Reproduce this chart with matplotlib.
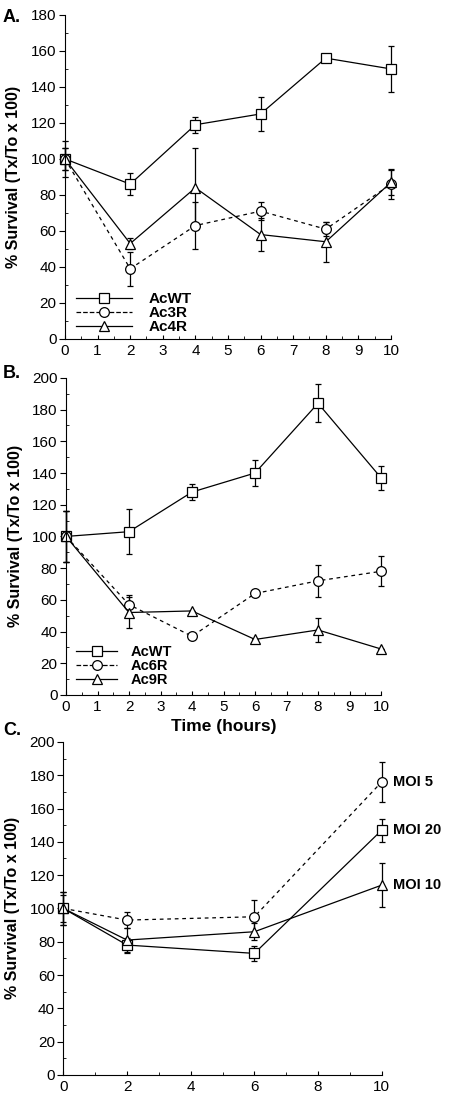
import matplotlib.pyplot as plt
from matplotlib.lines import Line2D
from matplotlib.ticker import MultipleLocator

plt.rcParams['font.family'] = ['Liberation Sans', 'DejaVu Sans']

# Panel A data
hours_a = [0, 2, 4, 6, 8, 10]
a_wt = [100, 86, 119, 125, 156, 150]
a_wt_err = [6, 6, 4.5, 9.5, 0, 13]
a_3r = [100, 39, 63, 71, 61, 86]
a_3r_err = [6, 9.5, 13, 5, 4, 8.5]
a_4r = [100, 53, 84, 58, 54, 87]
a_4r_err = [10, 3, 22, 9, 11, 7]

# Panel B data
hours_b = [0, 2, 4, 6, 8, 10]
b_wt = [100, 103, 128, 140, 184, 137]
b_wt_err = [16, 14, 5, 8, 12, 7.5]
b_6r = [100, 57, 37, 64, 72, 78]
b_6r_err = [16, 6, 0, 0, 10, 9.5]
b_9r = [100, 52, 53, 35, 41, 29]
b_9r_err = [16, 10, 0, 0, 7.5, 0]

# Panel C data
hours_c = [0, 2, 6, 10]
moi5 = [100, 93, 95, 176]
moi5_err = [10, 5, 10, 12]
moi20 = [100, 78, 73, 147]
moi20_err = [10, 4.5, 4.5, 7]
moi10 = [100, 81, 86, 114]
moi10_err = [8, 7, 5, 13]

ylabel = '% Survival (Tx/To x 100)'


def series(ax, x, y, err, marker, ls, ms=7):
    dash = (3, 3) if ls == '--' else (None, None)
    c = ax.errorbar(x, y, yerr=err, color='black', ls=ls, lw=0.9, marker=marker,
                    ms=ms, mfc='white', mec='black', mew=0.9, capsize=2.5,
                    elinewidth=0.9, capthick=0.9, dashes=dash)
    for art in c.lines[1] + c.lines[2] + (c.lines[0],):
        art.set_clip_on(False)


def handle(marker, ls, ms=7):
    return Line2D([], [], color='black', ls=ls, lw=0.9, marker=marker, ms=ms,
                  mfc='white', mec='black', mew=0.9)


def style(ax, ymax, ystep, xlabel_step=1):
    ax.spines['top'].set_visible(False)
    ax.spines['right'].set_visible(False)
    ax.set_xlim(0, 10)
    ax.set_ylim(0, ymax)
    ax.set_xticks(range(0, 11, xlabel_step))
    ax.xaxis.set_minor_locator(MultipleLocator(0.5 if xlabel_step == 1 else 1))
    ax.yaxis.set_major_locator(MultipleLocator(ystep))
    ax.yaxis.set_minor_locator(MultipleLocator(ystep / 2))
    ax.tick_params(axis='y', which='major', direction='out', length=4, labelsize=11, pad=2)
    ax.tick_params(axis='y', which='minor', direction='in', length=2)
    ax.tick_params(axis='x', which='major', direction='in', length=3, labelsize=11)
    ax.tick_params(axis='x', which='minor', direction='in', length=2)
    ax.set_ylabel(ylabel, fontsize=11.5, fontweight='bold')
    ax.yaxis.set_label_coords(-0.135, 0.5)


fig = plt.figure(figsize=(4.6, 10.97), dpi=100)

# Panel A
ax1 = fig.add_axes([0.1413, 0.6910, 0.7087, 0.2954])
series(ax1, hours_a, a_wt, a_wt_err, 's', '-')
series(ax1, hours_a, a_3r, a_3r_err, 'o', '--')
series(ax1, hours_a, a_4r, a_4r_err, '^', '-', ms=6.5)
style(ax1, 180, 20)
ax1.legend([handle('s', '-'), handle('o', '--'), handle('^', '-', 6.5)],
           ['AcWT', 'Ac3R', 'Ac4R'],
           loc='upper left', bbox_to_anchor=(0.0, 0.178), frameon=False,
           handlelength=3.7, handletextpad=1.1, labelspacing=0.0,
           borderaxespad=0.3, prop={'weight': 'bold', 'size': 11})

# Panel B
ax2 = fig.add_axes([0.1435, 0.3665, 0.6848, 0.2890])
series(ax2, hours_b, b_wt, b_wt_err, 's', '-')
series(ax2, hours_b, b_6r, b_6r_err, 'o', '--')
series(ax2, hours_b, b_9r, b_9r_err, '^', '-', ms=6.5)
style(ax2, 200, 20)
ax2.legend([handle('s', '-'), handle('o', '--'), handle('^', '-', 6.5)],
           ['AcWT', 'Ac6R', 'Ac9R'],
           loc='upper left', bbox_to_anchor=(0.0, 0.19), frameon=False,
           handlelength=2.8, handletextpad=0.9, labelspacing=0.0,
           borderaxespad=0.3, prop={'weight': 'bold', 'size': 10.5})
ax2.set_xlabel('Time (hours)', fontsize=12.5, fontweight='bold', labelpad=4)

# Panel C
ax3 = fig.add_axes([0.1377, 0.0201, 0.6922, 0.3036])
series(ax3, hours_c, moi5, moi5_err, 'o', '--')
series(ax3, hours_c, moi20, moi20_err, 's', '-')
series(ax3, hours_c, moi10, moi10_err, '^', '-', ms=6.5)
style(ax3, 200, 20, xlabel_step=2)
for lab, vals in [('MOI 5', moi5), ('MOI 20', moi20), ('MOI 10', moi10)]:
    ax3.annotate(lab, (hours_c[-1], vals[-1]), xytext=(8, 0), textcoords='offset points',
                 va='center', ha='left', fontsize=10.5, fontweight='bold', annotation_clip=False)

# panel letters
for lab, y in [('A.', 0.992), ('B.', 0.667), ('C.', 0.342)]:
    fig.text(0.006, y, lab, fontsize=13, fontweight='bold', va='top', ha='left')

fig.savefig('out.png', dpi=100)
